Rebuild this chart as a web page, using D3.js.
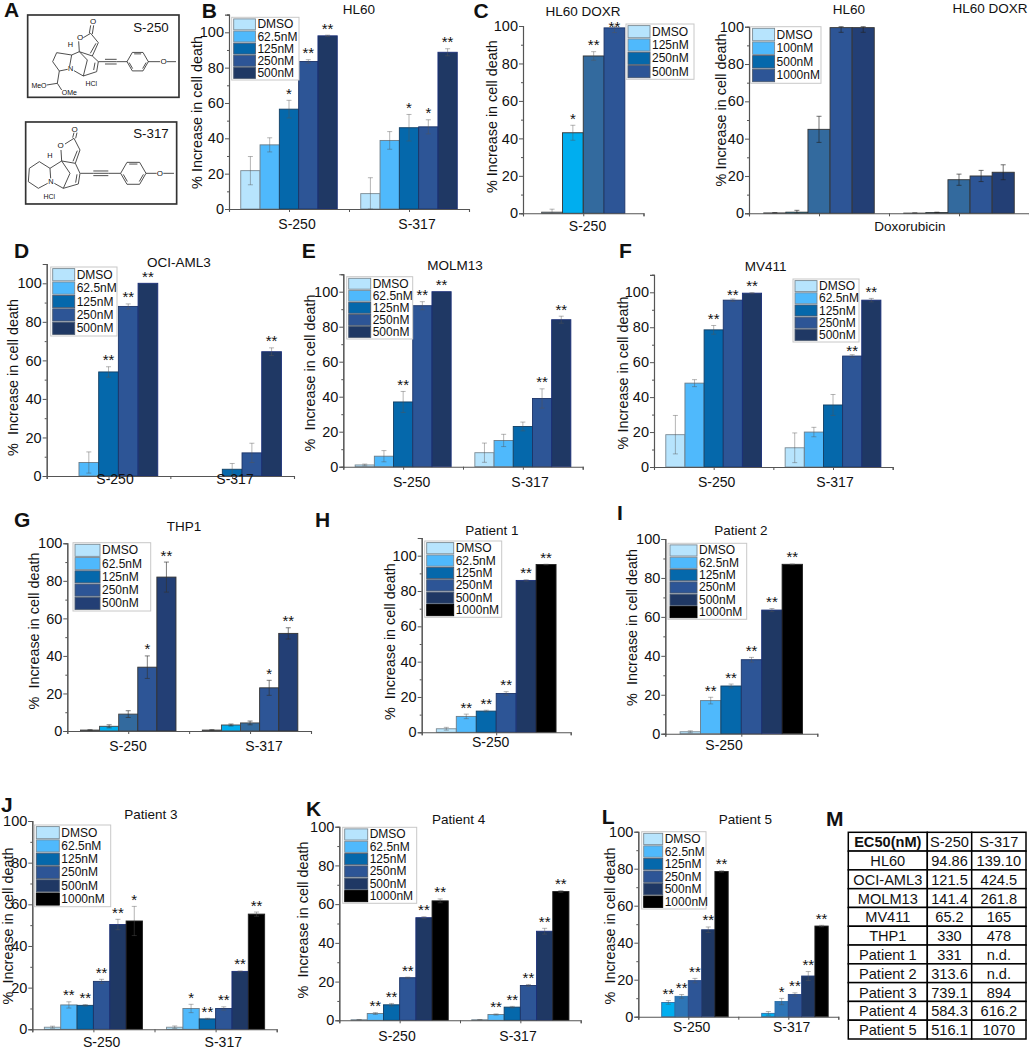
<!DOCTYPE html>
<html>
<head>
<meta charset="utf-8">
<script src="https://cdn.jsdelivr.net/npm/d3@7"></script>
<style>
  html, body { margin: 0; padding: 0; background: #fff; }
  svg { display: block; }
  text { font-family: "Liberation Sans", Arial, sans-serif; fill: #111; white-space: pre; }
</style>
</head>
<body>
<div id="chart"></div>
<script>
// Categories and series
const cats = ["S-250", "S-317"];
const single = ["S-250"];
const doxCats = ["HL60", "HL60 DOXR"];
const doses5 = ["DMSO", "62.5nM", "125nM", "250nM", "500nM"];
const doses6 = ["DMSO", "62.5nM", "125nM", "250nM", "500nM", "1000nM"];
const dosesC1 = ["DMSO", "125nM", "250nM", "500nM"];
const dosesC2 = ["DMSO", "100nM", "500nM", "1000nM"];

// Values: one row per category
const hl60Vals = [[21.7, 36.3, 56.5, 83.5, 98], [8.7, 38.8, 46, 46.5, 88.7]];
const hl60Errs = [[8, 4, 5, 1, 0.4], [9, 5, 7.5, 4, 2]];
const hl60Stars = [["", "", "*", "**", "**"], ["", "", "*", "*", "**"]];

const doxrVals = [[0.6, 43, 84, 99]];
const doxrErrs = [[1.6, 4, 2.3, 2.5]];
const doxrStars = [["", "*", "**", "**"]];

const doxoVals = [[0.2, 0.6, 45, 99.5, 99.5], [0.1, 0.4, 18, 20, 22]];
const doxoErrs = [[0.1, 1, 7, 2.5, 2.5], [0.1, 0.2, 3, 3, 4]];

const ociVals = [[0, 7, 54, 88, 100], [0, 0, 3.5, 12, 64.5]];
const ociErrs = [[0, 5.5, 2.7, 1.3, 0], [0, 0, 3, 5, 2]];
const ociStars = [["", "", "**", "**", "**"], ["", "", "", "", "**"]];

const molmVals = [[1, 6, 37, 92, 100], [8, 15, 23, 39, 84]];
const molmErrs = [[0.5, 3.2, 6, 2.3, 0], [5.5, 3.5, 2.5, 5.5, 2]];
const molmStars = [["", "", "**", "**", "**"], ["", "", "", "**", "**"]];

const mvVals = [[18.5, 48, 78.5, 95.5, 99.5], [11, 20, 35.5, 63.5, 95.5]];
const mvErrs = [[11, 2, 2.5, 0.7, 0.3], [8.5, 2.7, 6, 0.8, 1]];
const mvStars = [["", "", "**", "**", "**"], ["", "", "", "**", "**"]];

const thpVals = [[0.5, 2.5, 9, 34, 82], [0.5, 3.2, 4.3, 23, 52]];
const thpErrs = [[0.2, 0.8, 1.8, 6, 8], [0.2, 0.5, 1, 4, 3]];
const thpStars = [["", "", "", "*", "**"], ["", "", "", "*", "**"]];

const p1Vals = [[2, 9, 12, 22, 86, 95]];
const p1Errs = [[0.8, 1.3, 0.5, 1, 0.4, 0.2]];
const p1Stars = [["", "**", "**", "**", "**", "**"]];

const p2Vals = [[1, 17, 24.5, 38, 63.5, 87]];
const p2Errs = [[0.5, 1.7, 1, 1.2, 0.8, 0.2]];
const p2Stars = [["", "**", "**", "**", "**", "**"]];

const p3Vals = [[1, 11.7, 11.5, 23, 50.3, 52], [1, 10, 5, 10, 27.8, 55.3]];
const p3Errs = [[0.5, 1.5, 0.4, 1, 2.5, 7], [0.6, 2, 0.3, 0.8, 0.2, 1]];
const p3Stars = [["", "**", "**", "**", "**", "*"], ["", "*", "**", "**", "**", "**"]];

const p4Vals = [[0.3, 3.5, 8, 22, 53, 61.7], [0.3, 3, 6.8, 18, 46, 66.5]];
const p4Errs = [[0.1, 0.5, 0.7, 0.3, 0.5, 1], [0.1, 0.3, 0.4, 0.5, 1.5, 0.5]];
const p4Stars = [["", "**", "**", "**", "**", "**"], ["", "**", "**", "**", "**", "**"]];

const p5Vals = [[0, 7.7, 11, 19.5, 47, 78.5], [0, 1.8, 8.2, 12, 22, 49]];
const p5Errs = [[0, 1, 1, 1.2, 1.5, 0.4], [0, 1, 1.7, 0.9, 2.4, 0.4]];
const p5Stars = [["", "**", "**", "**", "**", "**"], ["", "", "*", "**", "**", "**"]];

// EC50 table
const tableHead = ["EC50(nM)", "S-250", "S-317"];
const tableLines = ["HL60", "OCI-AML3", "MOLM13", "MV411", "THP1", "Patient 1", "Patient 2", "Patient 3", "Patient 4", "Patient 5"];
const tableS250 = ["94.86", "121.5", "141.4", "65.2", "330", "331", "313.6", "739.1", "584.3", "516.1"];
const tableS317 = ["139.10", "424.5", "261.8", "165", "478", "n.d.", "n.d.", "894", "616.2", "1070"];

// Colours
const fill6 = ["#b7e4fd", "#4fb9fc", "#0568ab", "#2d5596", "#1f3864", "#000000"];
const edge6 = ["#7b8a94", "#6b7c88", "#123f63", "#1c3468", "#1b2f78", "#222222"];
const fillC1 = ["#b7e4fd", "#00aeef", "#336a9e", "#2d5596"];
const edgeC1 = ["#444444", "#333333", "#333333", "#1c3468"];
const legC = ["#b7e4fd", "#4fb9fc", "#0568ab", "#2d5596"];
const fillC2 = ["#b7e4fd", "#00aeef", "#336a9e", "#2d5596", "#233f75"];
const edgeC2 = ["#333333", "#333333", "#333333", "#333333", "#333333"];
const fillG = ["#b7e4fd", "#00aeef", "#336a9e", "#2d5596", "#233f75"];
const edgeG = ["#444444", "#444444", "#444444", "#333333", "#333333"];
const legG = ["#b7e4fd", "#4fb9fc", "#0568ab", "#2d5596", "#233f75"];
const fillL = ["#dbe6f5", "#00aeef", "#2e75b6", "#2d5596", "#1f3864", "#000000"];
const edgeL = ["#777777", "#2a6fa8", "#2a6fa8", "#2a4a88", "#27407a", "#222222"];

// Layout of each panel, in page pixels
const panels = [
  { title: "HL60", tx: 359, ty: 9, left: 229, right: 469, y0: 209, y100: 32.3, ymax: 110, barW: 19.3,
    cats: cats, vals: hl60Vals, errs: hl60Errs, stars: hl60Stars,
    labelX: [297, 417], labelY: 224, ylabX: 196.7, ylabY: 112.5,
    legend: doses5, lx: 231.7, ly: 17.3, lw: 67.3, lh: 62.7, sw: 21.7 },
  { title: "HL60 DOXR", tx: 583, ty: 11, left: 523, right: 643.5, y0: 213.3, y100: 26, ymax: 100, barW: 20.8,
    cats: single, vals: doxrVals, errs: doxrErrs, stars: doxrStars, fill: fillC1, edge: edgeC1, legFill: legC,
    starShift: [0, 0, 0, 7.5],
    labelX: [587.5], labelY: 226, ylabX: 491.5, ylabY: 116.7,
    legend: dosesC1, lx: 626, ly: 24, lw: 68, lh: 55.3, sw: 22 },
  { title: null, left: 749, right: 1029, y0: 213.3, y100: 26.7, ymax: 100, barW: 22.1,
    cats: doxCats, vals: doxoVals, errs: doxoErrs, fill: fillC2, edge: edgeC2, legFill: legC, errColor: "#222",
    labelX: [], ylabX: 721, ylabY: 110,
    legend: dosesC2, lx: 750.6, ly: 26.7, lw: 70.4, lh: 56.6, sw: 22 },
  { title: "OCI-AML3", tx: 179, ty: 262, left: 46.7, right: 294, y0: 476, y100: 283.3, ymax: 110, barW: 19.7,
    cats: cats, vals: ociVals, errs: ociErrs, stars: ociStars,
    labelX: [115, 235], labelY: 479, ylabX: 12.7, ylabY: 377.5, yTitle: "%  Increase in cell death",
    legend: doses5, lx: 50.7, ly: 267, lw: 66.3, lh: 69, sw: 22 },
  { title: "MOLM13", tx: 455, ty: 265, left: 343.3, right: 582.7, y0: 466.7, y100: 291.7, ymax: 110, barW: 19.2,
    cats: cats, vals: molmVals, errs: molmErrs, stars: molmStars,
    labelX: [411.7, 530], labelY: 481.7, ylabX: 310, ylabY: 373, yTitle: "%  Increase in cell death",
    legend: doses5, lx: 346.7, ly: 276.7, lw: 66, lh: 62.3, sw: 22 },
  { title: "MV411", tx: 765.7, ty: 266, left: 654, right: 892.7, y0: 467, y100: 292.3, ymax: 110, barW: 19.15,
    cats: cats, vals: mvVals, errs: mvErrs, stars: mvStars, starShift: [0, 0, 0, 3, 0],
    labelX: [716.7, 835], labelY: 481.7, ylabX: 623, ylabY: 373,
    legend: doses5, lx: 793, ly: 279, lw: 66, lh: 63, sw: 22 },
  { title: "THP1", tx: 184, ty: 526.7, left: 67.3, right: 311, y0: 731, y100: 543.3, ymax: 100, barW: 19.1,
    cats: cats, vals: thpVals, errs: thpErrs, stars: thpStars, fill: fillG, edge: edgeG, legFill: legG, errColor: "#333",
    labelX: [128, 264], labelY: 746, ylabX: 34, ylabY: 631, yTitle: "%  Increase in cell death",
    legend: doses5, lx: 73, ly: 542.7, lw: 77.7, lh: 68.3, sw: 25 },
  { title: "Patient 1", tx: 492, ty: 530, left: 421.7, right: 570.7, y0: 732.3, y100: 555.7, ymax: 110, barW: 19.95,
    cats: single, vals: p1Vals, errs: p1Errs, stars: p1Stars,
    labelX: [490.7], labelY: 741.7, ylabX: 390, ylabY: 641.7, yTitle: "%  Increase in cell death",
    legend: doses6, lx: 424.7, ly: 541, lw: 77, lh: 76.3, sw: 27 },
  { title: "Patient 2", tx: 741, ty: 530.7, left: 665.3, right: 817.3, y0: 733.7, y100: 539, ymax: 100, barW: 20.4,
    cats: single, vals: p2Vals, errs: p2Errs, stars: p2Stars,
    labelX: [724], labelY: 745, ylabX: 631.7, ylabY: 627.5, yTitle: "%  Increase in cell death",
    legend: doses6, lx: 668, ly: 543.3, lw: 78.7, lh: 76, sw: 27 },
  { title: "Patient 3", tx: 151, ty: 814, left: 32.3, right: 276.7, y0: 1029.3, y100: 821, ymax: 100, barW: 16.35,
    cats: cats, vals: p3Vals, errs: p3Errs, stars: p3Stars,
    labelX: [101.7, 223.3], labelY: 1041.5, ylabX: 8, ylabY: 926, yTitle: "%  Increase in cell death",
    legend: doses6, lx: 34.3, ly: 825, lw: 76.4, lh: 81.7, sw: 23 },
  { title: "Patient 4", tx: 458.7, ty: 819.3, left: 339.3, right: 580.7, y0: 1020.3, y100: 826.7, ymax: 100, barW: 16.2,
    cats: cats, vals: p4Vals, errs: p4Errs, stars: p4Stars,
    labelX: [397, 518], labelY: 1035.7, ylabX: 302.7, ylabY: 920, yTitle: "%  Increase in cell death",
    legend: doses6, lx: 342.7, ly: 827.3, lw: 74, lh: 76, sw: 23 },
  { title: "Patient 5", tx: 745.3, ty: 819, left: 638.3, right: 838.3, y0: 1016.7, y100: 831.7, ymax: 100, barW: 13.3,
    cats: cats, vals: p5Vals, errs: p5Errs, stars: p5Stars, fill: fillL, edge: edgeL,
    labelX: [691.7, 791.7], labelY: 1027, ylabX: 610, ylabY: 926, yTitle: "%  Increase in cell death",
    legend: doses6, lx: 641.7, ly: 831.7, lw: 64.3, lh: 77.3, sw: 19 }
];

// Panel letters
const letters = [["A", 4, 17], ["B", 201.7, 18], ["C", 473.6, 18], ["D", 14, 258], ["E", 301.7, 258], ["F", 619, 258],
  ["G", 14, 526.7], ["H", 315, 527], ["I", 617, 520], ["J", 1, 811.7], ["K", 306, 816], ["L", 601.7, 824], ["M", 826, 826]];

const svg = d3.select("#chart")
  .append("svg")
  .attr("width", 1029)
  .attr("height", 1050);

function drawPanel(p) {
  const g = svg.append("g");
  const fill = p.fill || fill6;
  const edge = p.edge || edge6;
  const legFill = p.legFill || fill6;

  const yTop = p.y0 - (p.y0 - p.y100) * p.ymax / 100;
  const y = d3.scaleLinear().domain([0, p.ymax]).range([p.y0, yTop]);
  const x = d3.scaleBand().domain(p.cats).range([p.left, p.right]);
  const n = p.vals[0].length;

  // Bars, error bars and significance stars for each category
  p.cats.forEach((cat, c) => {
    const mid = x(cat) + x.bandwidth() / 2;
    const inner = d3.scaleBand()
      .domain(d3.range(n))
      .range([mid - n * p.barW / 2, mid + n * p.barW / 2]);
    const rows = d3.range(n).filter(i => p.vals[c][i] > 0);
    const upper = i => y(Math.min(p.vals[c][i] + p.errs[c][i], p.ymax));
    const lower = i => y(Math.max(p.vals[c][i] - p.errs[c][i], 0));

    g.selectAll(null)
      .data(rows)
      .enter()
      .append("rect")
      .attr("x", i => inner(i))
      .attr("y", i => y(p.vals[c][i]))
      .attr("width", inner.bandwidth())
      .attr("height", i => p.y0 - y(p.vals[c][i]))
      .attr("fill", i => fill[i])
      .attr("stroke", i => edge[i])
      .attr("stroke-width", 0.9);

    const errs = g.selectAll(null)
      .data(rows.filter(i => p.errs[c][i] > 0))
      .enter()
      .append("g")
      .attr("stroke", p.errColor || "#555")
      .attr("stroke-opacity", p.errColor ? 0.8 : 0.55)
      .attr("stroke-width", 0.8)
      .attr("transform", i => `translate(${inner(i) + inner.bandwidth() / 2},0)`);
    errs.append("line").attr("y1", lower).attr("y2", upper);
    errs.append("line").attr("x1", -2.5).attr("x2", 2.5).attr("y1", upper).attr("y2", upper);
    errs.append("line").attr("x1", -2.5).attr("x2", 2.5).attr("y1", lower).attr("y2", lower);

    if (p.stars) {
      g.selectAll(null)
        .data(rows.filter(i => p.stars[c][i]))
        .enter()
        .append("text")
        .attr("x", i => inner(i) + inner.bandwidth() / 2)
        .attr("y", i => upper(i) - 1.5 + (p.starShift ? p.starShift[i] : 0))
        .attr("text-anchor", "middle")
        .attr("font-size", 15)
        .text(i => p.stars[c][i]);
    }
  });

  // Y axis with labelled and unlabelled ticks
  const yMajor = d3.axisLeft(y).tickValues(d3.range(0, 101, 20)).tickSize(4).tickPadding(1);
  const yMinor = d3.axisLeft(y).tickValues(d3.range(10, p.ymax + 1, 20)).tickSize(2).tickFormat("");
  g.append("g").attr("transform", `translate(${p.left},0)`).call(yMinor).call(styleAxis);
  g.append("g").attr("transform", `translate(${p.left},0)`).call(yMajor).call(styleAxis);

  // X axis: ticks at the band edges and centres, labels placed by hand below
  const edges = d3.scaleLinear().domain([0, p.cats.length]).range([p.left, p.right]);
  const xAxis = d3.axisBottom(edges)
    .tickValues(d3.range(0, p.cats.length + 0.1, 0.5))
    .tickSize(3)
    .tickFormat("");
  g.append("g").attr("transform", `translate(0,${p.y0})`).call(xAxis).call(styleAxis);

  p.labelX.forEach((lx, i) => {
    g.append("text")
      .attr("x", lx)
      .attr("y", p.labelY)
      .attr("text-anchor", "middle")
      .attr("dominant-baseline", "central")
      .attr("font-size", 14)
      .text(p.cats[i]);
  });

  if (p.title) {
    g.append("text")
      .attr("x", p.tx)
      .attr("y", p.ty)
      .attr("text-anchor", "middle")
      .attr("dominant-baseline", "central")
      .attr("font-size", 13.5)
      .text(p.title);
  }

  g.append("text")
    .attr("transform", `translate(${p.ylabX},${p.ylabY}) rotate(-90)`)
    .attr("text-anchor", "middle")
    .attr("dominant-baseline", "central")
    .attr("font-size", 14.4)
    .text(p.yTitle || "% Increase in cell death");

  // Legend box
  const leg = g.append("g").attr("transform", `translate(${p.lx},${p.ly})`);
  leg.append("rect")
    .attr("width", p.lw)
    .attr("height", p.lh)
    .attr("fill", "#fff")
    .attr("stroke", "#c8c8c8")
    .attr("stroke-width", 1);
  const row = d3.scaleBand().domain(p.legend).range([1, p.lh - 1]);
  p.legend.forEach((name, i) => {
    leg.append("rect")
      .attr("x", 2)
      .attr("y", row(name) + 0.6)
      .attr("width", p.sw)
      .attr("height", row.bandwidth() - 1.2)
      .attr("fill", legFill[i])
      .attr("stroke", i < 2 ? "#7b8a94" : (edge[i] === "#222222" ? "#000" : "#4a5a70"))
      .attr("stroke-width", 0.9);
    leg.append("text")
      .attr("x", p.sw + 4)
      .attr("y", row(name) + row.bandwidth() / 2)
      .attr("dominant-baseline", "central")
      .attr("font-size", 12)
      .text(name);
  });
}

function styleAxis(sel) {
  sel.selectAll(".domain").attr("stroke", "#555").attr("stroke-width", 1.1);
  sel.selectAll(".tick line").attr("stroke", "#555");
  sel.selectAll(".tick text")
    .attr("font-size", 14.5)
    .attr("font-family", '"Liberation Sans", Arial, sans-serif')
    .attr("fill", "#111");
}

panels.forEach(drawPanel);

// Group titles above the doxorubicin panel
[["HL60", 849, 9], ["HL60 DOXR", 990, 8], ["Doxorubicin", 910, 226]].forEach(t => {
  svg.append("text")
    .attr("x", t[1])
    .attr("y", t[2])
    .attr("text-anchor", "middle")
    .attr("dominant-baseline", "central")
    .attr("font-size", 13.5)
    .text(t[0]);
});

svg.selectAll(".letter")
  .data(letters)
  .enter()
  .append("text")
  .attr("class", "letter")
  .attr("x", d => d[1])
  .attr("y", d => d[2])
  .attr("font-size", 21)
  .attr("font-weight", "bold")
  .text(d => d[0]);

// Panel A: the two structures, sketched at 3x and scaled down
const core250 = [
  [[250, 113], [272, 100]], [[272, 100], [295, 128]], [[268, 100], [272, 76]], [[277, 102], [281, 76]],
  [[295, 128], [277, 168]], [[288, 130], [271, 160]], [[277, 168], [238, 155]], [[238, 155], [236, 124]],
  [[277, 168], [295, 185]], [[295, 185], [290, 215]], [[285, 188], [281, 210]], [[290, 215], [250, 228]],
  [[250, 228], [222, 212]], [[238, 155], [215, 165]], [[215, 165], [209, 198]], [[238, 155], [262, 180]], [[262, 180], [250, 228]],
  [[215, 165], [170, 158]], [[170, 158], [158, 185]], [[158, 185], [178, 213]], [[178, 213], [203, 208]],
  [[172, 250], [140, 255]], [[172, 250], [185, 270]], [[178, 213], [172, 250]],
  [[295, 185], [315, 185]], [[315, 178], [350, 178]], [[315, 185], [350, 185]], [[315, 192], [350, 192]],
  [[350, 185], [382, 185]], [[444, 185], [480, 185]], [[500, 185], [528, 185]]
];
const core317 = [
  [[195, 432], [222, 415]], [[222, 415], [240, 450]], [[218, 413], [222, 398]], [[227, 415], [231, 398]],
  [[240, 450], [226, 490]], [[232, 452], [219, 484]], [[226, 490], [185, 483]], [[185, 483], [183, 450]],
  [[226, 490], [240, 520]], [[240, 520], [235, 552]], [[231, 523], [227, 548]], [[235, 552], [190, 565]],
  [[190, 565], [163, 550]], [[185, 483], [150, 505]], [[150, 505], [152, 535]], [[185, 483], [210, 520]], [[210, 520], [190, 565]],
  [[150, 505], [118, 485]], [[118, 485], [88, 505]], [[88, 505], [85, 545]], [[85, 545], [115, 565]], [[115, 565], [143, 550]],
  [[241, 520], [280, 520]], [[280, 513], [325, 513]], [[280, 520], [325, 520]], [[280, 527], [325, 527]],
  [[325, 520], [362, 520]], [[438, 520], [470, 520]], [[490, 520], [522, 520]]
];

function ring(cx, cy, r) {
  const at = (k, i) => [cx + k * r * Math.cos(i * Math.PI / 3), cy + k * r * Math.sin(i * Math.PI / 3)];
  const outer = d3.range(6).map(i => [at(1, i), at(1, i + 1)]);
  const inner = [0, 2, 4].map(i => [at(0.8, i + 0.1), at(0.8, i + 0.9)]);
  return outer.concat(inner);
}

const acid = svg.append("g").attr("transform", "scale(0.3333)");
function bonds(list) {
  acid.append("g")
    .selectAll("line")
    .data(list)
    .enter()
    .append("line")
    .attr("x1", d => d[0][0]).attr("y1", d => d[0][1])
    .attr("x2", d => d[1][0]).attr("y2", d => d[1][1])
    .attr("stroke", "#333")
    .attr("stroke-width", 2.6);
}
function atom(t, tx, ty, size) {
  acid.append("text")
    .attr("x", tx).attr("y", ty)
    .attr("text-anchor", "middle")
    .attr("dominant-baseline", "central")
    .attr("font-size", size)
    .text(t);
}
acid.append("rect").attr("x", 83).attr("y", 45).attr("width", 454).attr("height", 247)
  .attr("fill", "#fff").attr("stroke", "#333").attr("stroke-width", 5);
acid.append("rect").attr("x", 77).attr("y", 366).attr("width", 453).attr("height", 246)
  .attr("fill", "#fff").attr("stroke", "#333").attr("stroke-width", 5);

bonds(core250);
bonds(ring(413, 185, 32));
bonds(core317);
bonds(ring(400, 520, 38));

atom("S-250", 453, 83, 40);
atom("S-317", 453, 402, 40);
atom("O", 279, 65, 24); atom("O", 240, 113, 24); atom("H", 211, 133, 22); atom("N", 212, 207, 22);
atom("O", 491, 185, 24); atom("MeO", 117, 256, 21); atom("OMe", 208, 277, 21); atom("HCl", 274, 252, 21);
atom("O", 224, 388, 24); atom("O", 182, 438, 24); atom("H", 150, 468, 22); atom("N", 153, 545, 22);
atom("O", 480, 522, 24); atom("HCl", 148, 590, 21);

// Panel M: EC50 table
const tableX = d3.scaleOrdinal().domain([0, 1, 2, 3]).range([848.3, 927.3, 971.7, 1026]);
const tableRows = [tableHead].concat(tableLines.map((name, i) => [name, tableS250[i], tableS317[i]]));
const tableY = d3.scaleBand().domain(d3.range(tableRows.length)).range([832.3, 1039]);
const table = svg.append("g");
tableRows.forEach((r, i) => {
  r.forEach((cell, j) => {
    const x0 = tableX(j);
    const x1 = tableX(j + 1);
    table.append("rect")
      .attr("x", x0)
      .attr("y", tableY(i))
      .attr("width", x1 - x0)
      .attr("height", tableY.bandwidth())
      .attr("fill", "#fff")
      .attr("stroke", "#000")
      .attr("stroke-width", 1.5);
    table.append("text")
      .attr("x", (x0 + x1) / 2)
      .attr("y", tableY(i) + tableY.bandwidth() / 2 + 0.5)
      .attr("text-anchor", "middle")
      .attr("dominant-baseline", "central")
      .attr("font-size", 14.6)
      .attr("font-weight", i === 0 && j === 0 ? "bold" : "normal")
      .text(cell);
  });
});
</script>
</body>
</html>
